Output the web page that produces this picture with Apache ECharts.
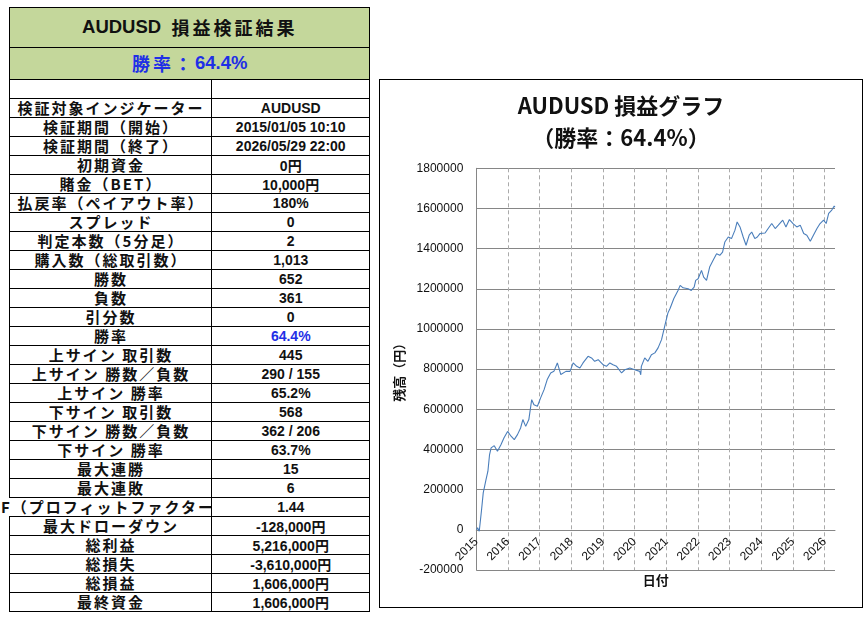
<!DOCTYPE html>
<html>
<head>
<meta charset="utf-8">
<script src="https://cdn.jsdelivr.net/npm/echarts@6/dist/echarts.min.js"></script>
<style>
  html, body { margin: 0; padding: 0; background: #fff; width: 867px; height: 617px; overflow: hidden; }
  .cell { position: absolute; box-sizing: border-box; border: 1.5px solid #000; background: #fff;
          display: flex; align-items: center; justify-content: center; white-space: nowrap; color: #111; }
  .lab { font-family: "Noto Sans CJK JP", sans-serif; font-weight: bold; font-size: 15px; letter-spacing: 2px; }
  .val { font-family: "Liberation Sans", "Noto Sans CJK JP", sans-serif; font-weight: bold; font-size: 14px; }
  .hdr { background: #c4d79b; font-family: "Liberation Sans", "Noto Sans CJK JP", sans-serif; font-weight: bold; font-size: 18.5px; }
  .jp { font-family: "Noto Sans CJK JP", sans-serif; letter-spacing: 3px; font-size: 18px; }
  #frame { position: absolute; left: 378.5px; top: 78.5px; width: 484.5px; height: 529px; box-sizing: border-box;
           border: 1.5px solid #000; pointer-events: none; }
  #chart { position: absolute; left: 379px; top: 79px; width: 484px; height: 528px; }
</style>
</head>
<body>
<div id="tbl"></div>
<div id="chart"></div>
<div id="frame"></div>
<script>
// ---------- table data ----------
const tableTitle = "AUDUSD";
const tableTitleJp = "損益検証結果";
const winRateHeader = "勝率：";
const winRateValue = "64.4%";
const rowLabels = ["", "検証対象インジケーター", "検証期間（開始）", "検証期間（終了）", "初期資金", "賭金（BET）",
  "払戻率（ペイアウト率）", "スプレッド", "判定本数（5分足）", "購入数（総取引数）", "勝数", "負数", "引分数", "勝率",
  "上サイン 取引数", "上サイン 勝数／負数", "上サイン 勝率", "下サイン 取引数", "下サイン 勝数／負数", "下サイン 勝率",
  "最大連勝", "最大連敗", "PF（プロフィットファクター）", "最大ドローダウン", "総利益", "総損失", "総損益", "最終資金"];
const rowValues = ["", "AUDUSD", "2015/01/05 10:10", "2026/05/29 22:00", "0円", "10,000円", "180%", "0", "2", "1,013",
  "652", "361", "0", "64.4%", "445", "290 / 155", "65.2%", "568", "362 / 206", "63.7%", "15", "6", "1.44",
  "-128,000円", "5,216,000円", "-3,610,000円", "1,606,000円", "1,606,000円"];

// ---------- chart data ----------
const chartTitle = "AUDUSD 損益グラフ";
const chartSubTitle = "（勝率：64.4%）";
const yAxisName = "残高（円）";
const xAxisName = "日付";
const yearTickLabels = ["2015","2016","2017","2018","2019","2020","2021","2022","2023","2024","2025","2026"];
const xMinDate = "2015-01-01";
const xMaxDate = "2026-05-01";
const yMin = -200000, yMax = 1800000, yStep = 200000;
const dates = [
 "2015-01-05","2015-01-16","2015-02-04","2015-03-03","2015-03-22","2015-04-23","2015-05-15","2015-06-03","2015-06-21","2015-07-27",
 "2015-09-02","2015-10-12","2015-11-17","2015-12-28","2016-02-06","2016-03-14","2016-04-20","2016-05-26","2016-06-21","2016-07-24",
 "2016-08-29","2016-10-01","2016-10-27","2016-12-06","2017-01-12","2017-02-21","2017-03-29","2017-05-08","2017-06-14","2017-07-24",
 "2017-09-02","2017-10-31","2017-12-17","2018-01-23","2018-03-04","2018-04-10","2018-05-16","2018-07-13","2018-08-22","2018-09-28",
 "2018-11-07","2019-01-02","2019-02-10","2019-03-22","2019-04-27","2019-06-07","2019-08-04","2019-09-10","2019-11-07","2020-01-02",
 "2020-03-01","2020-03-12","2020-03-19","2020-04-27","2020-06-03","2020-07-13","2020-08-22","2020-09-28","2020-11-07","2020-12-13",
 "2021-01-19","2021-02-14","2021-03-29","2021-05-16","2021-06-10","2021-07-13","2021-09-10","2021-10-16","2021-11-18","2021-12-06",
 "2022-01-03","2022-02-11","2022-03-08","2022-04-10","2022-05-16","2022-06-25","2022-08-04","2022-09-10","2022-10-12","2022-11-07",
 "2022-12-17","2023-01-23","2023-03-04","2023-03-29","2023-05-01","2023-06-07","2023-07-10","2023-08-15","2023-09-13","2023-10-19",
 "2023-11-17","2023-12-17","2024-02-14","2024-03-21","2024-05-01","2024-06-10","2024-07-16","2024-09-05","2024-10-12","2024-11-21",
 "2025-01-02","2025-02-14","2025-03-26","2025-05-05","2025-06-10","2025-07-20","2025-08-25","2025-10-05","2025-11-10","2025-12-20",
 "2026-01-19","2026-02-17","2026-03-25","2026-04-22","2026-04-30"];
const balance = [
 0, 10000, -7000, 101000, 184000, 250000, 292000, 375000, 408000, 419000,
 391000, 424000, 458000, 490000, 466000, 449000, 474000, 507000, 549000, 515000,
 549000, 648000, 623000, 615000, 657000, 698000, 748000, 781000, 789000, 831000,
 773000, 789000, 789000, 831000, 814000, 806000, 831000, 864000, 856000, 839000,
 847000, 822000, 814000, 831000, 822000, 814000, 781000, 797000, 806000, 797000,
 789000, 772000, 814000, 856000, 839000, 872000, 881000, 906000, 947000, 1013000,
 1079000, 1103000, 1152000, 1192000, 1217000, 1205000, 1200000, 1192000, 1208000, 1242000,
 1250000, 1292000, 1258000, 1242000, 1308000, 1342000, 1375000, 1367000, 1383000, 1433000,
 1458000, 1450000, 1492000, 1533000, 1508000, 1458000, 1417000, 1467000, 1483000, 1450000,
 1458000, 1475000, 1478000, 1500000, 1525000, 1500000, 1517000, 1542000, 1508000, 1545000,
 1525000, 1508000, 1517000, 1475000, 1467000, 1437000, 1467000, 1500000, 1525000, 1542000,
 1525000, 1575000, 1592000, 1612000, 1606000];

// ---------- build table ----------
const tbl = document.getElementById('tbl');
const X0 = 10, X1 = 212, X2 = 369.5;
function cell(x0, y0, x1, y1, cls, html, extra) {
  const d = document.createElement('div');
  d.className = 'cell ' + cls;
  d.style.left = (x0 - 0.75) + 'px';
  d.style.top = (y0 - 0.75) + 'px';
  d.style.width = (x1 - x0 + 1.5) + 'px';
  d.style.height = (y1 - y0 + 1.5) + 'px';
  d.innerHTML = html;
  if (extra) extra(d);
  tbl.appendChild(d);
  return d;
}
cell(X0, 7.3, X2, 47.3, 'hdr', '<span>' + tableTitle + '&nbsp;&nbsp;</span><span class="jp">' + tableTitleJp + '</span>');
cell(X0, 47.3, X2, 79.3, 'hdr', '<span class="jp" style="color:#1f2fe6;letter-spacing:3px">' + winRateHeader + '</span><span style="color:#1f2fe6">' + winRateValue + '</span>');
const rowH = 19, top0 = 79.3;
rowLabels.forEach((lab, i) => {
  const y0 = top0 + i * rowH, y1 = y0 + rowH;
  const isPF = lab.startsWith('PF');
  cell(X0, y0, X1, y1, 'lab', '<span>' + lab + '</span>', d => {
    if (isPF) { d.style.borderLeft = 'none'; d.style.overflow = 'visible'; d.style.background = 'transparent'; d.style.zIndex = 0; }
  });
  cell(X1, y0, X2, y1, 'val', rowValues[i], d => {
    d.style.zIndex = 2;
    if (lab === '勝率') d.style.color = '#1f2fe6';
  });
});

// ---------- chart ----------
function ts(s) { const p = s.split('-').map(Number); return new Date(p[0], p[1] - 1, p[2]).getTime(); }
const chart = echarts.init(document.getElementById('chart'), null, { renderer: 'canvas' });
const yearTicks = yearTickLabels.map(y => new Date(+y, 0, 1).getTime());
const seriesData = dates.map((d, i) => [ts(d), balance[i]]);
const gridTop = 89.3, gridBottom = 37;
const gridH = 528 - gridTop - gridBottom;
// lift the x axis (labels) from the plot bottom up to the value-0 line
const xAxisLift = gridH * (0 - yMin) / (yMax - yMin);
chart.setOption({
  animation: false,
  backgroundColor: 'transparent',
  title: {
    text: chartTitle + '\n' + chartSubTitle,
    left: 'center',
    top: 6,
    textStyle: { fontFamily: '"Noto Sans CJK JP", sans-serif', fontWeight: 'bold', fontSize: 22, lineHeight: 32, color: '#111' }
  },
  grid: { left: 97.3, right: 28, top: gridTop, bottom: gridBottom, containLabel: false, outerBoundsMode: 'none' },
  xAxis: {
    type: 'value',
    min: ts(xMinDate),
    max: ts(xMaxDate),
    position: 'bottom',
    offset: -xAxisLift,
    name: xAxisName,
    nameLocation: 'middle',
    nameGap: 44,
    nameTextStyle: { fontFamily: '"Noto Sans CJK JP", sans-serif', fontWeight: 'bold', fontSize: 13, color: '#111' },
    axisLine: { show: true, onZero: false, lineStyle: { color: '#868686', width: 1 } },
    axisTick: { show: false, customValues: yearTicks },
    axisLabel: {
      customValues: yearTicks,
      rotate: 45,
      margin: 10,
      fontFamily: '"Liberation Sans", sans-serif',
      fontSize: 12,
      color: '#111',
      formatter: v => String(new Date(v).getFullYear())
    },
    splitLine: { show: true, lineStyle: { color: '#aaaaaa', type: [4, 3], width: 1 } }
  },
  yAxis: {
    type: 'value',
    min: yMin,
    max: yMax,
    interval: yStep,
    name: yAxisName,
    nameLocation: 'middle',
    nameGap: 60,
    nameTextStyle: { fontFamily: '"Noto Sans CJK JP", sans-serif', fontWeight: 'bold', fontSize: 13, color: '#111' },
    axisLine: { show: true, onZero: false, lineStyle: { color: '#868686', width: 1 } },
    axisTick: { show: false },
    axisLabel: { margin: 13, fontFamily: '"Liberation Sans", sans-serif', fontSize: 12, color: '#111', formatter: v => String(v) },
    splitLine: { show: true, lineStyle: { color: '#868686', width: 1 } }
  },
  series: [{
    type: 'line',
    data: seriesData,
    showSymbol: false,
    lineStyle: { color: '#4a7ebb', width: 1.1 },
    itemStyle: { color: '#4a7ebb' }
  }]
});
</script>
</body>
</html>
